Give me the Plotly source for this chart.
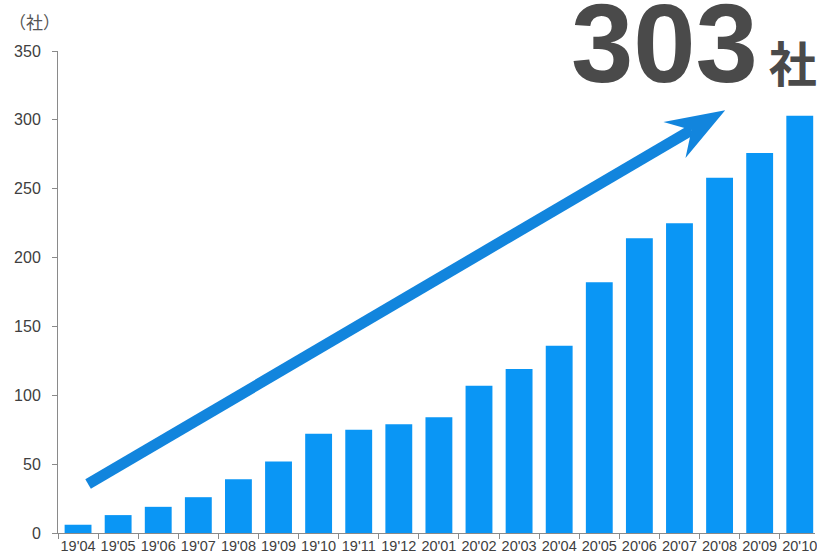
import plotly.graph_objects as go

# Monthly company count
months = ["19'04", "19'05", "19'06", "19'07", "19'08", "19'09", "19'10", "19'11", "19'12",
          "20'01", "20'02", "20'03", "20'04", "20'05", "20'06", "20'07", "20'08", "20'09", "20'10"]
companies = [6, 13, 19, 26, 39, 52, 72, 75, 79, 84, 107, 119, 136, 182, 214, 225, 258, 276, 303]
y_ticks = [0, 50, 100, 150, 200, 250, 300, 350]

# Growth arrow, in data units (x = month index, y = count)
arrow_start = (0.25, 35.5)
arrow_notch = (15.30, 292.7)
arrow_tip = (16.14, 307.0)
arrow_wing_a = (14.60, 298.5)
arrow_wing_b = (15.15, 272.3)

BAR_BLUE = "#0A96F5"
ARROW_BLUE = "#1285DD"
AXIS_GREY = "#8A8A8A"
TEXT_GREY = "#404040"

x_idx = list(range(len(months)))

fig = go.Figure(go.Bar(
    x=x_idx, y=companies, width=0.67,
    marker=dict(color=BAR_BLUE, line=dict(width=0)),
    hoverinfo="skip",
))

# arrow shaft
fig.add_shape(type="line", xref="x", yref="y",
              x0=arrow_start[0], y0=arrow_start[1], x1=arrow_notch[0], y1=arrow_notch[1],
              line=dict(color=ARROW_BLUE, width=11))
# arrow head
head = "M {} {} L {} {} L {} {} L {} {} Z".format(
    arrow_tip[0], arrow_tip[1], arrow_wing_a[0], arrow_wing_a[1],
    arrow_notch[0], arrow_notch[1], arrow_wing_b[0], arrow_wing_b[1])
fig.add_shape(type="path", xref="x", yref="y", path=head,
              fillcolor=ARROW_BLUE, line=dict(width=0))

# headline figure
fig.add_annotation(
    xref="paper", yref="paper", x=0.675, y=1.016, xanchor="left", yanchor="middle",
    text="303<span style='font-size:48px;font-family:\"Noto Sans CJK JP\"'> 社</span>",
    showarrow=False,
    font=dict(family="Liberation Sans, Arial", size=112, color="#4A4A4A", weight="bold"),
)
# unit label
fig.add_annotation(
    xref="paper", yref="paper", x=-0.068, y=1.061, xanchor="left", yanchor="middle",
    text="（社）", showarrow=False,
    font=dict(family="Noto Sans CJK JP", size=17, color="#555555"),
)

fig.update_layout(
    width=817, height=555, autosize=False,
    margin=dict(l=58, r=0, t=51, b=22),
    paper_bgcolor="white", plot_bgcolor="white",
    showlegend=False,
    bargap=0.33,
    xaxis=dict(
        range=[-0.5, 18.38], tickmode="array", tickvals=x_idx, ticktext=months,
        ticks="", showgrid=False, zeroline=False,
        showline=True, linecolor=AXIS_GREY, linewidth=1,
        ticklabeloverflow="allow",
        tickfont=dict(family="Liberation Sans, Arial", size=14.5, color=TEXT_GREY),
        minor=dict(tickvals=[i - 0.5 for i in range(len(months) + 1)],
                   ticks="outside", ticklen=5, tickcolor=AXIS_GREY, showgrid=False),
    ),
    yaxis=dict(
        range=[0, 350], tickmode="array", tickvals=y_ticks,
        ticks="outside", ticklen=5, tickcolor=AXIS_GREY,
        showgrid=False, zeroline=False,
        showline=True, linecolor=AXIS_GREY, linewidth=1,
        tickfont=dict(family="Liberation Sans, Arial", size=16, color=TEXT_GREY),
        ticklabelstandoff=8,
    ),
)

fig.write_html("out.html")
